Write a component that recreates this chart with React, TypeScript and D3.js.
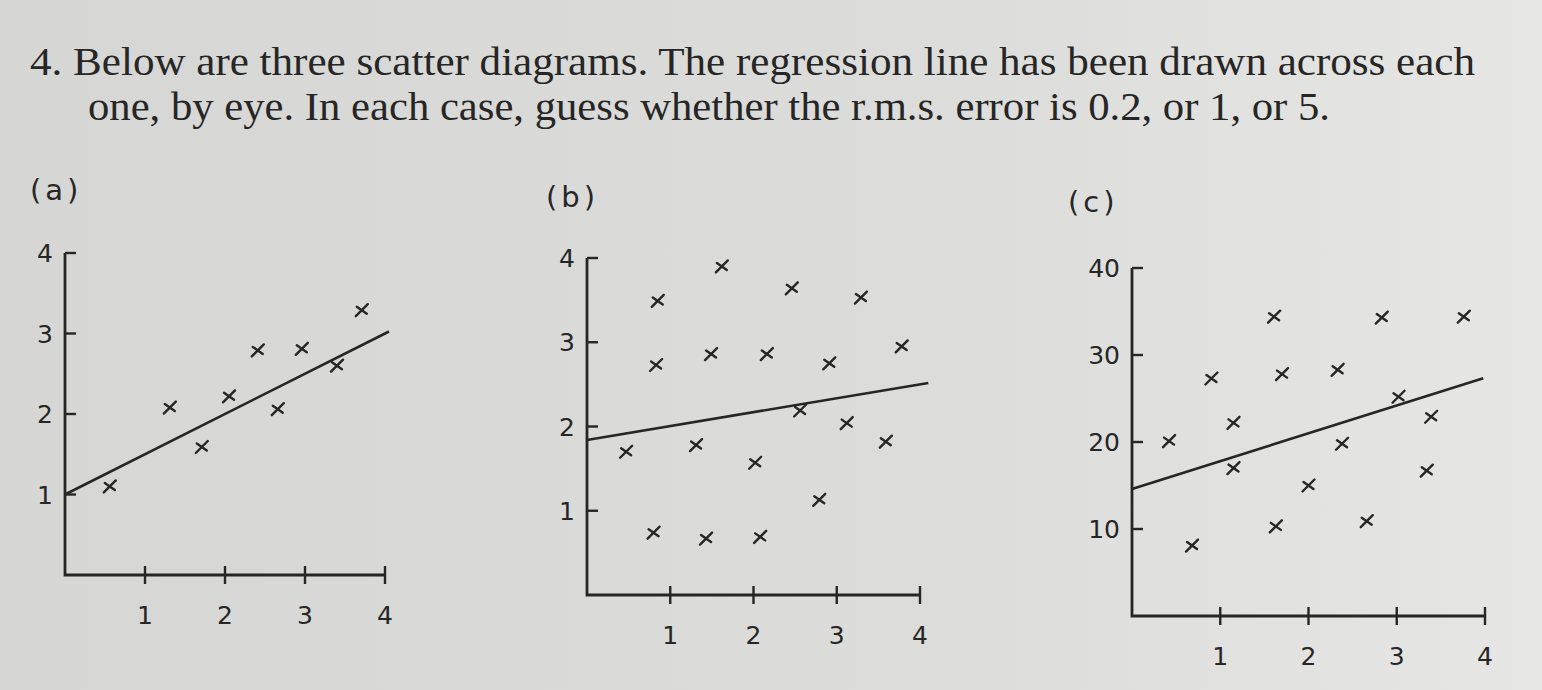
import React from 'react';
import * as d3 from 'd3';

const W = 1542, H = 690;
const INK = '#262626';

const TITLE_1 = '4. Below are three scatter diagrams. The regression line has been drawn across each';
const TITLE_2 = 'one, by eye. In each case, guess whether the r.m.s. error is 0.2, or 1, or 5.';

// panel (a)
const aX = [0.56, 1.31, 1.71, 2.05, 2.41, 2.66, 2.96, 3.4, 3.71];
const aY = [1.1, 2.08, 1.59, 2.22, 2.79, 2.06, 2.81, 2.6, 3.29];
const aLine = [1.0, 0.5]; // intercept, slope

// panel (b)
const bX = [0.47, 0.85, 0.83, 0.8, 1.62, 1.49, 1.31, 1.43, 2.16, 2.02, 2.08, 2.46, 2.56, 2.91, 2.79, 3.29, 3.12, 3.78, 3.59];
const bY = [1.7, 3.49, 2.73, 0.74, 3.9, 2.86, 1.78, 0.67, 2.86, 1.57, 0.69, 3.64, 2.19, 2.75, 1.13, 3.53, 2.04, 2.95, 1.82];
const bLine = [1.84, 0.165];

// panel (c)
const cX = [0.42, 0.68, 0.9, 1.15, 1.15, 1.61, 1.7, 1.63, 2.0, 2.33, 2.38, 2.66, 2.83, 3.02, 3.39, 3.34, 3.76];
const cY = [20.1, 8.1, 27.3, 22.2, 17.0, 34.4, 27.8, 10.3, 15.0, 28.3, 19.8, 10.9, 34.3, 25.2, 22.9, 16.7, 34.4];
const cLine = [14.6, 3.2];

const xTicks = [1, 2, 3, 4];

const panels = [
  { name: '(a)', xs: aX, ys: aY, line: aLine, lineEnd: 4.05, yMax: 4, yTicks: [1, 2, 3, 4],
    xr: [65, 385], yr: [575, 253], label: [30, 200], lab: 'a' },
  { name: '(b)', xs: bX, ys: bY, line: bLine, lineEnd: 4.1, yMax: 4, yTicks: [1, 2, 3, 4],
    xr: [587, 920], yr: [595, 258], label: [546, 207], lab: 'b' },
  { name: '(c)', xs: cX, ys: cY, line: cLine, lineEnd: 3.98, yMax: 40, yTicks: [10, 20, 30, 40],
    xr: [1132, 1485], yr: [616, 268], label: [1068, 212], lab: 'c' },
];

const Panel = ({ p }) => {
  const x = d3.scaleLinear().domain([0, 4]).range(p.xr);
  const y = d3.scaleLinear().domain([0, p.yMax]).range(p.yr);
  const [b0, b1] = p.line;
  const reg = d3.line()([[x(0), y(b0)], [x(p.lineEnd), y(b0 + b1 * p.lineEnd)]]);
  const pts = p.xs.map((v, i) => [x(v), y(p.ys[i])]);
  const font = 'DejaVu Sans, sans-serif';
  return (
    <g>
      <text x={p.label[0]} y={p.label[1]} fontFamily={font} fontSize={29} fill={INK} letterSpacing={4}>
        {p.name}
      </text>
      {/* axes */}
      <path d={`M${x(0)},${y(p.yMax)}V${y(0)}H${x(4)}`} fill="none" stroke={INK} strokeWidth={2.8} />
      {p.yTicks.map(t => (
        <g key={t}>
          <line x1={x(0)} x2={x(0) + 11} y1={y(t)} y2={y(t)} stroke={INK} strokeWidth={2.4} />
          <text x={x(0) - 12} y={y(t)} dy="0.36em" textAnchor="end" fontFamily={font} fontSize={25} fill={INK}>
            {t}
          </text>
        </g>
      ))}
      {xTicks.map(t => (
        <g key={t}>
          <line x1={x(t)} x2={x(t)} y1={y(0) - 9} y2={y(0) + 9} stroke={INK} strokeWidth={2.4} />
          <text x={x(t)} y={y(0) + 49} textAnchor="middle" fontFamily={font} fontSize={25} fill={INK}>
            {t}
          </text>
        </g>
      ))}
      <path d={reg} fill="none" stroke={INK} strokeWidth={2.6} />
      {pts.map(([px, py], i) => (
        <g key={i} transform={`translate(${px},${py})`} stroke={INK} strokeWidth={2.4} strokeLinecap="round">
          <line x1={-6} y1={6} x2={6} y2={-6} />
          <line x1={-5} y1={-3.5} x2={5} y2={3.5} />
        </g>
      ))}
    </g>
  );
};

export default function App() {
  return (
    <svg width={W} height={H} style={{ position: 'absolute', left: 0, top: 0 }}>
      <defs>
        <linearGradient id="paper" x1="0" y1="0" x2="1" y2="0">
          <stop offset="0" stopColor="#d6d6d4" />
          <stop offset="0.6" stopColor="#dcdcda" />
          <stop offset="1" stopColor="#e6e6e4" />
        </linearGradient>
      </defs>
      <rect width={W} height={H} fill="url(#paper)" />
      <text x={30} y={75} fontFamily="Liberation Serif, serif" fontSize={40} fill={INK}
        textLength={1445} lengthAdjust="spacingAndGlyphs">
        {TITLE_1}
      </text>
      <text x={88} y={120} fontFamily="Liberation Serif, serif" fontSize={40} fill={INK}
        textLength={1242} lengthAdjust="spacingAndGlyphs">
        {TITLE_2}
      </text>
      {panels.map(p => <Panel key={p.lab} p={p} />)}
    </svg>
  );
}
